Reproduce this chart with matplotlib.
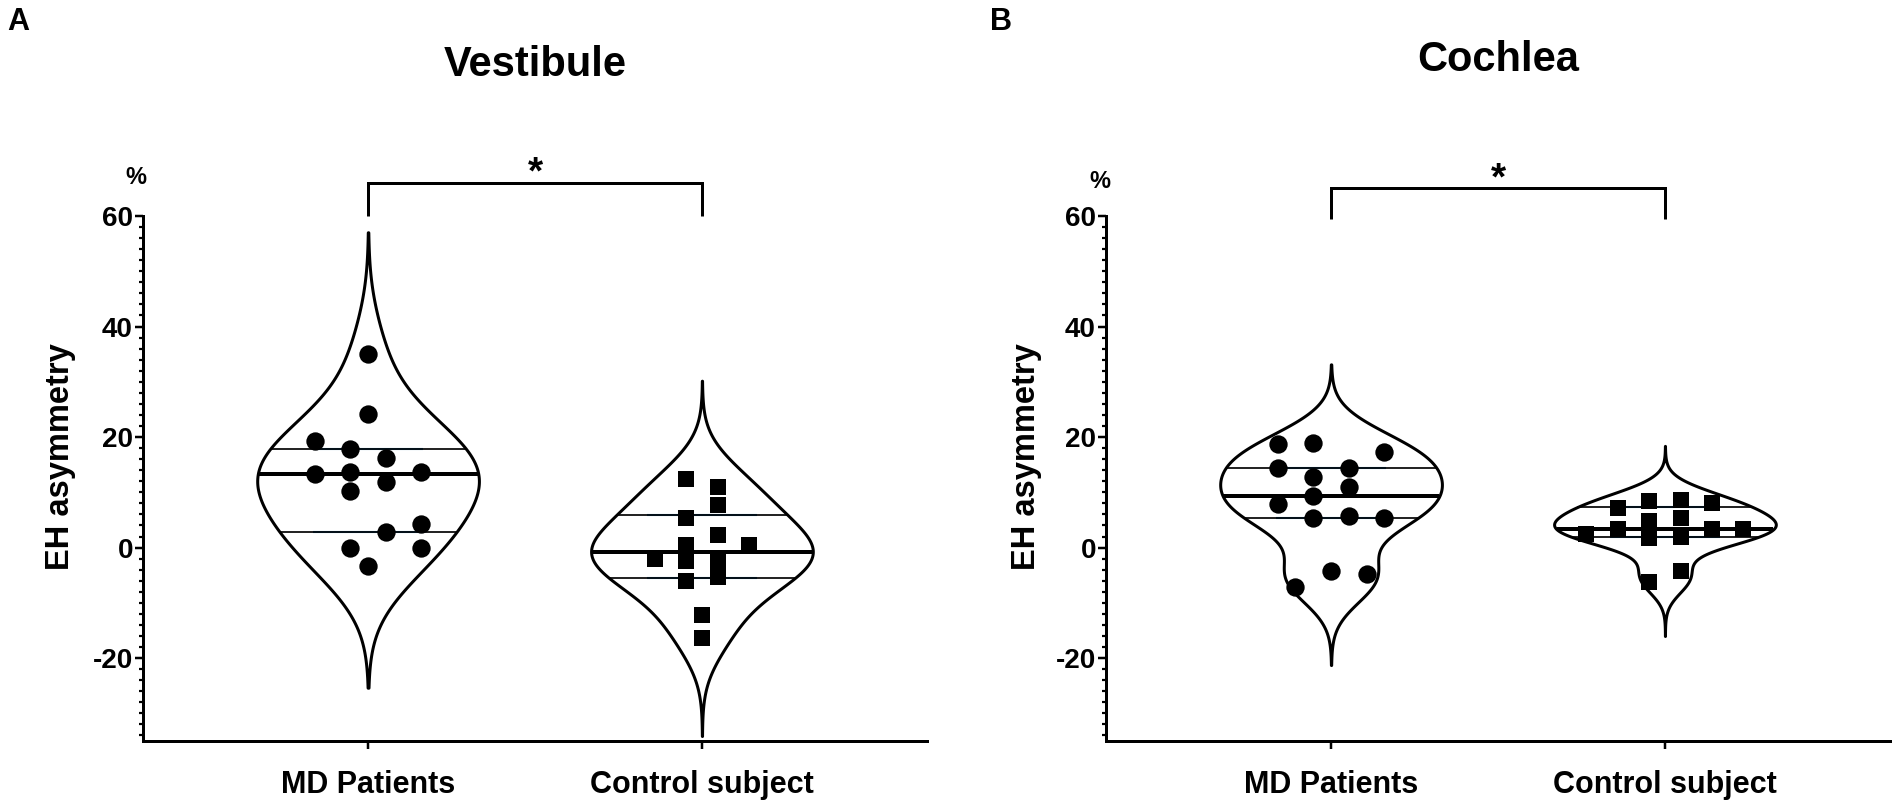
import numpy as np
import matplotlib
matplotlib.use("Agg")
import matplotlib.pyplot as plt
from matplotlib.ticker import MultipleLocator, FixedLocator

plt.rcParams['font.family'] = ['Liberation Sans', 'DejaVu Sans']
plt.rcParams['font.weight'] = 'bold'
plt.rcParams['axes.unicode_minus'] = False

# ---------------- data ----------------
categories = ['MD Patients', 'Control subject']
panel_titles = ['Vestibule', 'Cochlea']
panel_letters = ['A', 'B']
y_ticks = [-20, 0, 20, 40, 60]
y_label = 'EH asymmetry'
significance = ['*', '*']

vest_md = [35.0, 24.2, 19.3, 17.9, 16.2, 13.3, 13.7, 13.7, 11.9, 10.3, 4.2, 2.9, 0.0, 0.0, -3.3]
vest_md_dx = [0, 0, -0.160, -0.0535, 0.0535, -0.160, -0.0535, 0.160, 0.0535, -0.0535, 0.160, 0.0535, -0.0535, 0.160, 0]

vest_ctrl = [12.5, 11.0, 7.65, 5.4, 2.2, 0.4, 0.4, -2.4, -2.1, -2.35, -5.3, -6.0, -12.2, -16.4]
vest_ctrl_dx = [-0.048, 0.047, 0.047, -0.048, 0.047, 0.141, -0.048, -0.048, -0.141, 0.047, 0.047, -0.048, 0, 0]

coch_md = [18.7, 19.0, 17.3, 14.4, 14.4, 12.8, 11.0, 9.3, 7.8, 5.4, 5.7, 5.4, -4.2, -4.8, -7.1]
coch_md_dx = [-0.160, -0.0535, 0.160, -0.160, 0.0535, -0.0535, 0.0535, -0.0535, -0.160, -0.0535, 0.0535, 0.160, 0, 0.107, -0.107]

coch_ctrl = [7.1, 8.4, 8.7, 8.1, 5.4, 3.3, 4.8, 1.8, 2.0, 3.3, 2.4, 3.3, -6.3, -4.2]
coch_ctrl_dx = [-0.141, -0.047, 0.047, 0.141, 0.047, -0.141, -0.047, -0.047, 0.047, 0.141, -0.235, 0.235, -0.047, 0.047]

# KDE smoothing (style) per violin: (bandwidth multiplier, tail cut in bandwidths)
smooth_A = [(1.35, 2.75), (1.15, 3.2)]
smooth_B = [(1.15, 3.15), (1.15, 3.55)]

# ---------------- helpers ----------------
W, H = 1902, 808
fig = plt.figure(figsize=(W / 100, H / 100), dpi=100)

PX = 72 / 100  # points per pixel


def prism_quartiles(v):
    s = np.sort(np.asarray(v, float))
    n = len(s)

    def q(p):
        pos = p * (n + 1) - 1
        lo = int(np.floor(pos))
        frac = pos - lo
        lo = max(0, min(lo, n - 1))
        hi = max(0, min(lo + 1, n - 1))
        return s[lo] + frac * (s[hi] - s[lo])
    return q(0.25), q(0.5), q(0.75)


def kde_stats(v, mult, cut):
    x = np.asarray(v, float)
    n = len(x)
    sd = x.std(ddof=1)
    q1, med, q3 = prism_quartiles(x)
    a = min(sd, (q3 - q1) / 1.34)
    bw = mult * a * n ** (-0.2)
    coords = np.linspace(x.min() - cut * bw, x.max() + cut * bw, 800)
    vals = np.exp(-0.5 * ((coords[:, None] - x[None, :]) / bw) ** 2).sum(axis=1)
    vals = vals / (n * bw * np.sqrt(2 * np.pi))
    return dict(coords=coords, vals=vals, mean=x.mean(), median=med,
                min=coords[0], max=coords[-1], quantiles=[q1, q3]), (q1, med, q3)


VIOLIN_W = 0.664


def draw_panel(ax, groups, offsets, markers, msizes, smooth):
    positions = [1, 2]
    stats, qs = [], []
    for g, (mult, cut) in zip(groups, smooth):
        st, q = kde_stats(g, mult, cut)
        stats.append(st)
        qs.append(q)
    parts = ax.violin(stats, positions=positions, widths=VIOLIN_W,
                      showmeans=False, showextrema=False, showmedians=False)
    for b in parts['bodies']:
        b.set_facecolor('white')
        b.set_edgecolor('black')
        b.set_linewidth(3 * PX)
        b.set_alpha(1)
        b.set_zorder(2)
    for pos, st, q in zip(positions, stats, qs):
        vmax = st['vals'].max()
        for qi, lw in zip(q, (1.7 * PX, 4 * PX, 1.7 * PX)):
            hw = 0.5 * VIOLIN_W * np.interp(qi, st['coords'], st['vals']) / vmax
            ax.plot([pos - hw, pos + hw], [qi, qi], color='black', lw=lw,
                    solid_capstyle='butt', zorder=3)
    for pos, g, dx, m, ms in zip(positions, groups, offsets, markers, msizes):
        xs = pos + np.asarray(dx)
        ax.plot(xs, g, linestyle='none', marker=m, markersize=ms,
                markerfacecolor='black', markeredgecolor='black',
                markeredgewidth=0, zorder=4, clip_on=False)

    ax.set_xlim(0.326, 2.674)
    ax.set_ylim(-35, 60)
    for s in ('top', 'right'):
        ax.spines[s].set_visible(False)
    for s in ('left', 'bottom'):
        ax.spines[s].set_linewidth(3 * PX)
    ax.set_xticks(positions)
    ax.set_xticklabels(categories, fontsize=22, fontweight='bold')
    ax.yaxis.set_major_locator(FixedLocator(y_ticks))
    ax.set_yticklabels([str(t) for t in y_ticks], fontsize=20, fontweight='bold')
    ax.yaxis.set_minor_locator(MultipleLocator(2))
    ax.tick_params(axis='y', which='major', length=8 * PX, width=2.5 * PX, pad=1.5)
    ax.tick_params(axis='y', which='minor', length=4.5 * PX, width=2.2 * PX)
    ax.tick_params(axis='x', which='major', length=8 * PX, width=2.5 * PX, pad=15)
    ax.patch.set_alpha(0)


def add_axes_px(left, top, right, bottom):
    return fig.add_axes([left / W, 1 - bottom / H, (right - left) / W, (bottom - top) / H])


axA = add_axes_px(143, 216, 927, 741)
axB = add_axes_px(1106, 216, 1890, 741)

draw_panel(axA, [vest_md, vest_ctrl], [vest_md_dx, vest_ctrl_dx], ['o', 's'], [13.2, 12.0], smooth_A)
draw_panel(axB, [coch_md, coch_ctrl], [coch_md_dx, coch_ctrl_dx], ['o', 's'], [13.2, 12.0], smooth_B)

# significance brackets
for ax, ytop, yleg, ystar, sig in ((axA, 65.9, 60.0, 65.9, significance[0]),
                                   (axB, 65.0, 59.4, 64.8, significance[1])):
    ax.plot([1, 1, 2, 2], [yleg, ytop, ytop, yleg], color='black', lw=3 * PX,
            clip_on=False, solid_joinstyle='miter', solid_capstyle='butt')
    ax.text(1.5, ystar, sig, ha='center', va='baseline', fontsize=28,
            fontweight='bold', clip_on=False)

# texts in figure pixel coords
def ftext(x, y, s, **kw):
    fig.text(x / W, 1 - y / H, s, **kw)

ftext(18, 22, panel_letters[0], fontsize=22, fontweight='bold', ha='center', va='center')
ftext(1001, 22, panel_letters[1], fontsize=22, fontweight='bold', ha='center', va='center')
ftext(535, 65, panel_titles[0], fontsize=30, fontweight='bold', ha='center', va='center')
ftext(1498, 60, panel_titles[1], fontsize=30, fontweight='bold', ha='center', va='center')
ftext(136, 178, '%', fontsize=17, fontweight='bold', ha='center', va='center')
ftext(1100, 181, '%', fontsize=17, fontweight='bold', ha='center', va='center')
ftext(61, 457, y_label, fontsize=23.5, fontweight='bold', ha='center', va='center', rotation=90)
ftext(1027, 457, y_label, fontsize=23.5, fontweight='bold', ha='center', va='center', rotation=90)

fig.savefig('out.png', dpi=100, facecolor='white')
